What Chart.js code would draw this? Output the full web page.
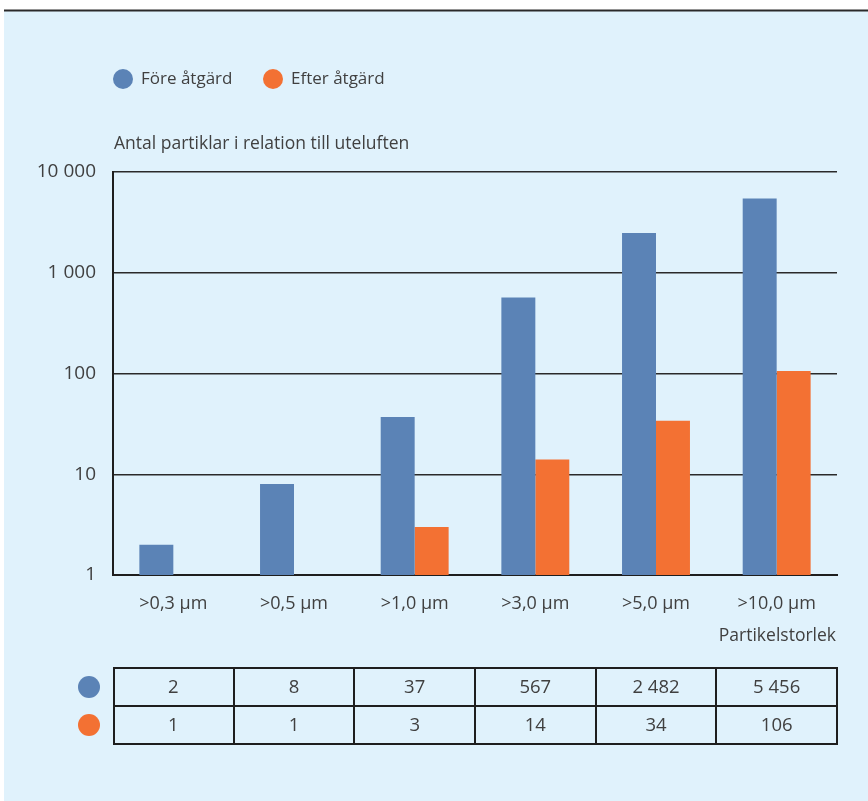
<!DOCTYPE html>
<html><head><meta charset="utf-8">
<script src="https://cdn.jsdelivr.net/npm/chart.js@4/dist/chart.umd.min.js"></script>
<style>
html,body{margin:0;padding:0;background:#fff;}
canvas{display:block}
</style></head><body>
<canvas id="c" width="868" height="801"></canvas>
<script>
// Particle counts relative to outdoor air, before and after the measure
const categories = ['>0,3 µm', '>0,5 µm', '>1,0 µm', '>3,0 µm', '>5,0 µm', '>10,0 µm'];
const beforeValues = [2, 8, 37, 567, 2482, 5456];
const afterValues = [1, 1, 3, 14, 34, 106];
const seriesNames = ['Före åtgärd', 'Efter åtgärd'];
const yTickValues = [1, 10, 100, 1000, 10000];
const yAxisTitle = 'Antal partiklar i relation till uteluften';
const xAxisTitle = 'Partikelstorlek';

const BLUE = '#5b83b6';
const ORANGE = '#f37133';
const BG = '#e0f2fc';
const TEXT = '#404040';
const FONT = '"Open Sans", "Noto Sans", sans-serif';

function spaced(v) {
  return String(v).replace(/\B(?=(\d{3})+(?!\d))/g, ' ');
}

const extras = {
  id: 'extras',
  beforeDraw(chart) {
    const ctx = chart.ctx;
    ctx.save();
    ctx.fillStyle = '#ffffff';
    ctx.fillRect(0, 0, chart.width, chart.height);
    ctx.fillStyle = BG;
    ctx.fillRect(4, 11, chart.width - 4, chart.height - 11);
    ctx.fillStyle = '#2a2a2a';
    ctx.fillRect(4, 9.5, chart.width - 4, 2);
    ctx.restore();
  },
  afterDraw(chart) {
    const ctx = chart.ctx;
    const area = chart.chartArea;
    const xs = chart.scales.x;
    ctx.save();
    ctx.fillStyle = TEXT;
    ctx.textBaseline = 'middle';

    // legend
    ctx.font = '17px ' + FONT;
    const legendX = [123, 273];
    chart.data.datasets.forEach((ds, i) => {
      ctx.beginPath();
      ctx.fillStyle = ds.backgroundColor;
      ctx.arc(legendX[i], 79, 10, 0, Math.PI * 2);
      ctx.fill();
      ctx.fillStyle = TEXT;
      ctx.textAlign = 'left';
      ctx.fillText(ds.label, legendX[i] + 18, 79);
    });

    // axis titles
    ctx.font = '17.5px ' + FONT;
    ctx.textAlign = 'left';
    ctx.fillText(yAxisTitle, 114, 144);
    ctx.textAlign = 'right';
    ctx.fillText(xAxisTitle, area.right - 1, 636);

    // value table under the chart
    const colW = (area.right - area.left) / categories.length;
    const rowY = [668, 706, 744];
    ctx.strokeStyle = '#1e1e1e';
    ctx.lineWidth = 2;
    ctx.strokeRect(area.left + 1, rowY[0], area.right - area.left - 1, rowY[2] - rowY[0]);
    ctx.beginPath();
    ctx.moveTo(area.left + 1, rowY[1]);
    ctx.lineTo(area.right, rowY[1]);
    for (let i = 1; i < categories.length; i++) {
      const bx = Math.round(xs.getPixelForValue(i) - colW / 2);
      ctx.moveTo(bx, rowY[0]);
      ctx.lineTo(bx, rowY[2]);
    }
    ctx.stroke();

    ctx.font = '18.5px ' + FONT;
    ctx.textAlign = 'center';
    chart.data.datasets.forEach((ds, r) => {
      const cy = (rowY[r] + rowY[r + 1]) / 2;
      ctx.beginPath();
      ctx.fillStyle = ds.backgroundColor;
      ctx.arc(89, cy, 11, 0, Math.PI * 2);
      ctx.fill();
      ctx.fillStyle = TEXT;
      ds.data.forEach((v, i) => {
        ctx.fillText(spaced(v), xs.getPixelForValue(i), cy + 1);
      });
    });
    ctx.restore();
  }
};

Chart.defaults.font.family = FONT;
Chart.defaults.font.size = 17;
Chart.defaults.color = TEXT;

new Chart(document.getElementById('c'), {
  type: 'bar',
  data: {
    labels: categories,
    datasets: [
      { label: seriesNames[0], data: beforeValues, backgroundColor: BLUE },
      { label: seriesNames[1], data: afterValues, backgroundColor: ORANGE }
    ]
  },
  options: {
    responsive: false,
    animation: false,
    devicePixelRatio: 1,
    layout: { padding: { left: 0, top: 172, right: 31, bottom: 0 } },
    datasets: { bar: { categoryPercentage: 0.563, barPercentage: 1, borderWidth: 0 } },
    plugins: { legend: { display: false }, tooltip: { enabled: false } },
    scales: {
      x: {
        grid: { display: false, drawTicks: false },
        border: { display: true, color: '#1e1e1e', width: 2 },
        ticks: { padding: 18, color: TEXT, font: { size: 18 } },
        afterFit(s) { s.height = 226; }
      },
      y: {
        type: 'logarithmic',
        min: 1,
        max: 10000,
        afterBuildTicks(s) { s.ticks = yTickValues.map(v => ({ value: v })); },
        grid: { color: '#2a2a2a', lineWidth: 1.5, drawTicks: false },
        border: { display: true, color: '#1e1e1e', width: 2 },
        ticks: {
          padding: 17,
          color: TEXT,
          font: { size: 19 },
          callback: v => spaced(v)
        },
        afterFit(s) { s.width = 113; }
      }
    }
  },
  plugins: [extras]
});
</script>
</body></html>
